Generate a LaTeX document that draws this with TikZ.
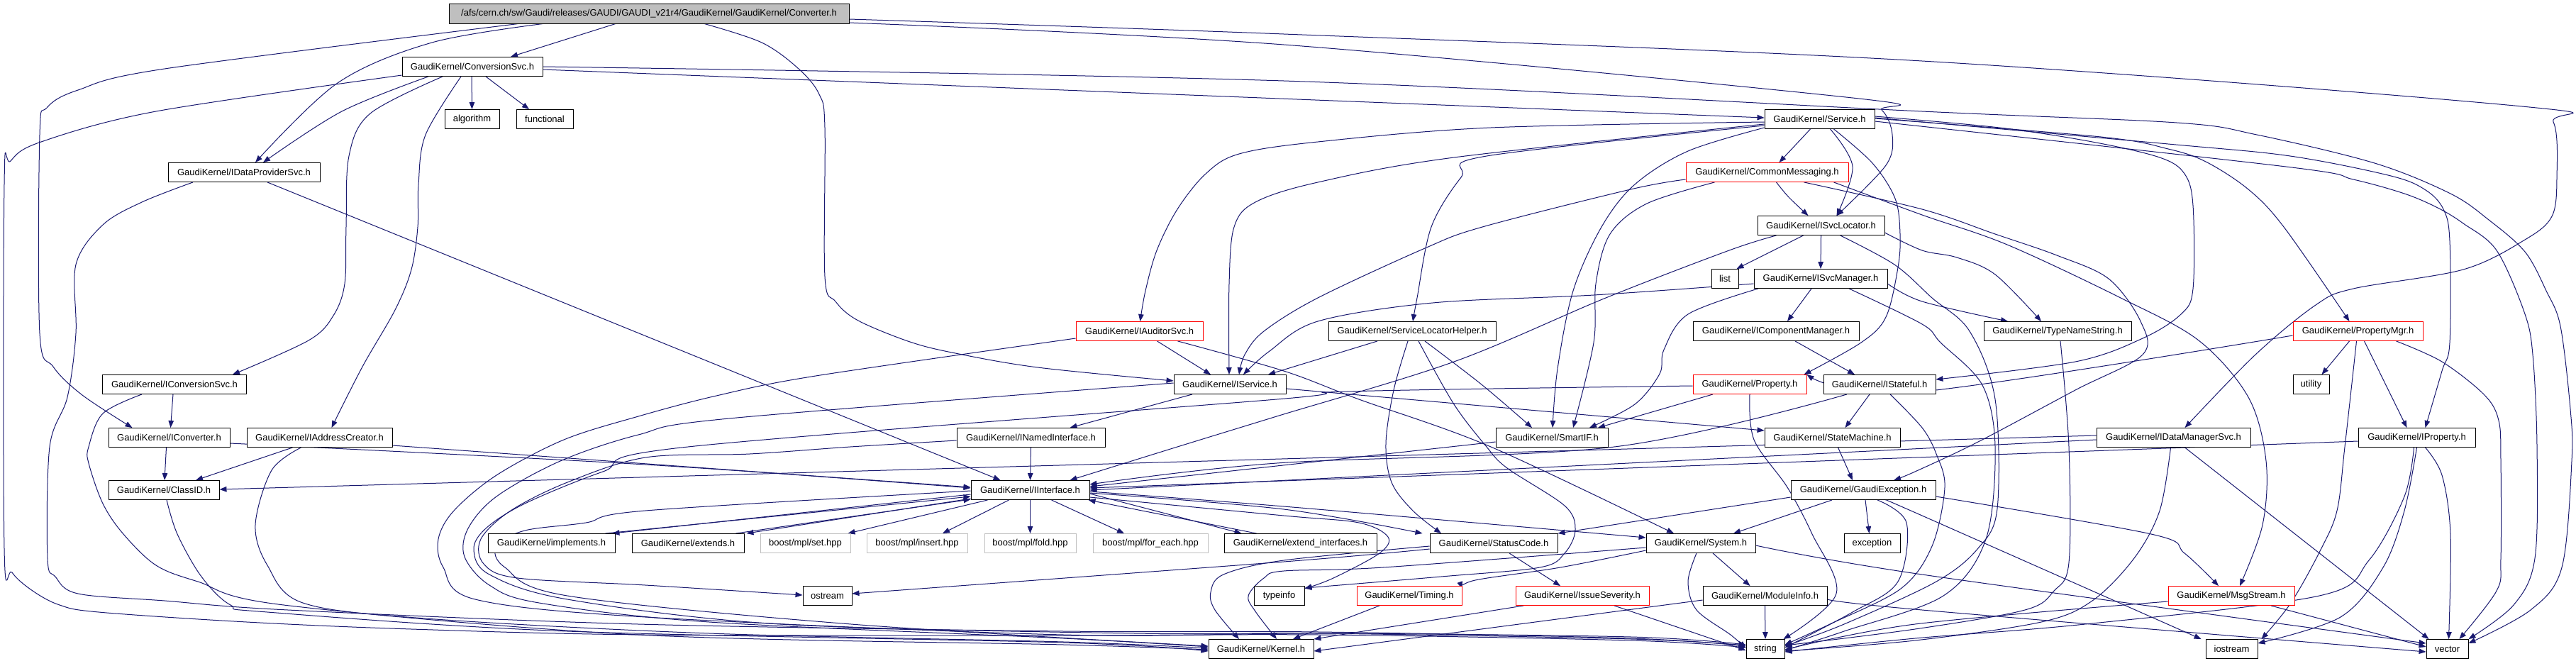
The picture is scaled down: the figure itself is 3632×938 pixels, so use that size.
\documentclass[tikz,border=0pt]{standalone}
\usepackage{fontspec}
\setmainfont{Liberation Sans}
\usetikzlibrary{arrows.meta}
\definecolor{navy}{RGB}{25,25,112}
\definecolor{boxgray}{RGB}{191,191,191}
\pgfdeclarelayer{edgelayer}
\pgfsetlayers{edgelayer,main}
\tikzset{
  box/.style={draw=black, line width=0.9pt, fill=white, minimum height=27pt, inner sep=0pt, font=\fontsize{13pt}{15pt}\selectfont},
  redbox/.style={box, draw=red},
  graybox/.style={box, draw=boxgray},
  rootbox/.style={box, fill=boxgray},
  conn/.style={draw=navy, line width=1pt, -{Triangle[length=10pt,width=7.5pt]}}
}
\newcommand\gedge[1]{\draw[conn] plot[smooth,tension=0.55] coordinates {#1};}
\begin{document}
\begin{tikzpicture}[x=1pt,y=-1pt]
\useasboundingbox (0,0) rectangle (3632,938);
% nodes
\node[rootbox, minimum width=564pt, minimum height=28pt] (R) at (915,19) {/afs/cern.ch/sw/Gaudi/releases/GAUDI/GAUDI\_v21r4/GaudiKernel/GaudiKernel/Converter.h};
\node[box, minimum width=198pt] (CS) at (666,94) {GaudiKernel/ConversionSvc.h};
\node[box, minimum width=77pt] (alg) at (665.5,168) {algorithm};
\node[box, minimum width=80pt] (func) at (768,168) {functional};
\node[box, minimum width=214pt] (IDP) at (344,243) {GaudiKernel/IDataProviderSvc.h};
\node[box, minimum width=155pt] (SV) at (2565.5,168) {GaudiKernel/Service.h};
\node[redbox, minimum width=229pt] (CM) at (2491.5,243) {GaudiKernel/CommonMessaging.h};
\node[box, minimum width=179pt] (ISL) at (2567.5,318) {GaudiKernel/ISvcLocator.h};
\node[box, minimum width=38pt] (list) at (2432,393) {list};
\node[box, minimum width=188pt] (ISM) at (2567,393) {GaudiKernel/ISvcManager.h};
\node[box, minimum width=236pt] (SLH) at (1991,467) {GaudiKernel/ServiceLocatorHelper.h};
\node[box, minimum width=234pt] (ICM) at (2504,467) {GaudiKernel/IComponentManager.h};
\node[box, minimum width=208pt] (TNS) at (2901,467) {GaudiKernel/TypeNameString.h};
\node[redbox, minimum width=183pt] (PMgr) at (3324.5,467) {GaudiKernel/PropertyMgr.h};
\node[redbox, minimum width=179pt] (IAud) at (1606.5,467) {GaudiKernel/IAuditorSvc.h};
\node[redbox, minimum width=160pt] (PR) at (2467,542) {GaudiKernel/Property.h};
\node[box, minimum width=158pt] (IST) at (2650,542) {GaudiKernel/IStateful.h};
\node[box, minimum width=51pt] (util) at (3258.5,542) {utility};
\node[box, minimum width=158pt] (IS) at (1734,542) {GaudiKernel/IService.h};
\node[box, minimum width=203pt] (ICS) at (246,542) {GaudiKernel/IConversionSvc.h};
\node[box, minimum width=158pt] (SIF) at (2188,617) {GaudiKernel/SmartIF.h};
\node[box, minimum width=191pt] (STM) at (2583.5,617) {GaudiKernel/StateMachine.h};
\node[box, minimum width=217pt] (IDM) at (3064.5,617) {GaudiKernel/IDataManagerSvc.h};
\node[box, minimum width=165pt] (IPR) at (3407.5,617) {GaudiKernel/IProperty.h};
\node[box, minimum width=209pt] (INI) at (1453.5,617) {GaudiKernel/INamedInterface.h};
\node[box, minimum width=171pt] (ICv) at (238.5,617) {GaudiKernel/IConverter.h};
\node[box, minimum width=205pt] (IAC) at (450.5,617) {GaudiKernel/IAddressCreator.h};
\node[box, minimum width=156pt] (CID) at (231,691) {GaudiKernel/ClassID.h};
\node[box, minimum width=167pt] (II) at (1452.5,691) {GaudiKernel/IInterface.h};
\node[box, minimum width=204pt] (GE) at (2627,691) {GaudiKernel/GaudiException.h};
\node[box, minimum width=179pt] (impl) at (777.5,766) {GaudiKernel/implements.h};
\node[box, minimum width=158pt] (ext) at (970,766) {GaudiKernel/extends.h};
\node[graybox, minimum width=127pt] (set) at (1135.5,766) {boost/mpl/set.hpp};
\node[graybox, minimum width=142pt] (ins) at (1293,766) {boost/mpl/insert.hpp};
\node[graybox, minimum width=129pt] (fold) at (1452.5,766) {boost/mpl/fold.hpp};
\node[graybox, minimum width=162pt] (fe) at (1622,766) {boost/mpl/for\_each.hpp};
\node[box, minimum width=215pt] (exti) at (1833.5,766) {GaudiKernel/extend\_interfaces.h};
\node[box, minimum width=180pt] (SC) at (2106,766) {GaudiKernel/StatusCode.h};
\node[box, minimum width=154pt] (SYS) at (2398,766) {GaudiKernel/System.h};
\node[box, minimum width=79pt] (exc) at (2639.5,766) {exception};
\node[box, minimum width=69pt] (ost) at (1166.5,840) {ostream};
\node[box, minimum width=71pt] (tinfo) at (1803.5,840) {typeinfo};
\node[redbox, minimum width=148pt] (TIM) at (1987,840) {GaudiKernel/Timing.h};
\node[redbox, minimum width=188pt] (ISev) at (2231,840) {GaudiKernel/IssueSeverity.h};
\node[box, minimum width=175pt] (MI) at (2488.5,840) {GaudiKernel/ModuleInfo.h};
\node[redbox, minimum width=178pt] (MS) at (3146,840) {GaudiKernel/MsgStream.h};
\node[box, minimum width=148pt] (KRN) at (1778,915) {GaudiKernel/Kernel.h};
\node[box, minimum width=54pt] (str) at (2489,915) {string};
\node[box, minimum width=73pt] (ios) at (3146.5,915) {iostream};
\node[box, minimum width=59pt] (vec) at (3450.5,915) {vector};

\begin{pgfonlayer}{edgelayer}
\fill[white] (0,0) rectangle (3632,938);
% root
\gedge{([xshift=-47pt]R.south) ([xshift=54pt]CS.north)}
\gedge{([xshift=-149pt]R.south) (609,60) (476,117) ([xshift=16pt]IDP.north)}
\gedge{([xshift=-184pt]R.south) (232,97) (110,127) (66,152) (56,190) (56,470) (75,517) (116,557) ([xshift=-52pt]ICv.north)}
\gedge{([xshift=78pt]R.south) (1074,60) (1126,97) (1155,133) (1163,180) (1163,390) (1178,425) (1210,452) (1283,482) (1347,498) (1463,518) ([yshift=5pt]IS.west)}
\gedge{([yshift=-13pt]R.east) (1810,63) (2612,138) (2653,155) (2668,190) (2659,233) ([xshift=22pt]ISL.north)}
\gedge{([yshift=-8pt]R.east) (1810,48) (2710,86) (3556,150) (3600,172) (3605,250) (3598,305) (3560,338) (3473,380) (3318,407) (3265,430) (3180,500) ([xshift=16pt]IDM.north)}
% ConversionSvc
\gedge{([xshift=-1pt]CS.south) (alg.north)}
\gedge{([xshift=19pt]CS.south) ([xshift=-22pt]func.north)}
\gedge{([xshift=-62pt]CS.south) (482,157) ([xshift=27pt]IDP.north)}
\gedge{([xshift=-42pt]CS.south) (522,160) (492,220) (488,320) (486,400) (470,445) (435,480) ([xshift=82pt]ICS.north)}
\gedge{([xshift=-16pt]CS.south) (600,190) (590,260) (589,320) (580,380) (557,437) (511,517) ([xshift=17pt]IAC.north)}
\gedge{([yshift=-4pt]CS.east) ([yshift=2pt]SV.west)}
\gedge{(CS.east) (1810,114) (2710,157) (3069,173) (3182,190) (3348,230) (3455,273) (3509,310) (3560,355) (3590,410) (3610,460) (3624,577) (3626,650) (3612,800) (3568,860) ([yshift=8pt]vec.east)}
\gedge{([yshift=-12pt]CS.west) (220,157) (58,200) (15,227) (6,260) (6,773) (17,807) (46,833) (84,853) (139,863) (348,877) (580,887) (910,895) (1500,896) (1860,895) (2300,903) ([yshift=2pt]str.west)}
% IDataProviderSvc
\gedge{([xshift=33pt]IDP.south) ([xshift=-42pt]II.north)}
\gedge{([xshift=-72pt]IDP.south) (200,285) (145,317) (107,373) (107,470) (95,560) (70,630) (67,787) (78,813) (110,837) (232,847) (406,860) (900,880) (1500,890) (1860,891) (2300,900) ([yshift=4pt]str.west)}
% IConversionSvc
\gedge{([xshift=-2pt]ICS.south) ([xshift=2pt]ICv.north)}
\gedge{([xshift=-46pt]ICS.south) (145,583) (125,630) (125,653) (145,710) (174,753) (220,797) (279,820) (400,853) (900,895) (1500,909) ([yshift=-1pt]KRN.west)}
% IConverter, IAddressCreator, ClassID
\gedge{([xshift=-4pt]ICv.south) ([xshift=1pt]CID.north)}
\gedge{([yshift=-8pt]ICv.east) (910,655) ([yshift=3pt]II.west)}
\gedge{([xshift=-38pt]IAC.south) ([xshift=45pt]CID.north)}
\gedge{([xshift=-26pt]IAC.south) (383,663) (360,740) (377,797) (427,850) (600,872) (1000,893) (1500,905) ([yshift=1pt]KRN.west)}
\gedge{([yshift=-11pt]IAC.east) ([yshift=4pt]II.west)}
\gedge{([xshift=4pt]CID.south) (250,753) (284,813) (325,853) (377,863) (800,890) (1500,906) ([yshift=-3pt]KRN.west)}
% INamedInterface
\gedge{(INI.south) (II.north)}
% loops around implements
\gedge{([yshift=-10pt]IAud.west) (1150,530) (1010,558) (900,587) (795,620) (700,670) (640,720) (618,760) (625,800) (670,845) (910,870) (1500,895) (1860,893) (2300,898) ([yshift=6pt]str.west)}
\gedge{([yshift=2pt]IS.west) (1028,590) (900,613) (790,650) (700,700) (660,745) (655,785) (690,825) (760,850) (1000,877) (1500,900) ([yshift=3pt]KRN.west)}
\gedge{([yshift=-2pt]PR.west) (1899,552) (1800,563) (970,630) (850,665) (740,710) (685,745) (668,775) (690,810) (800,845) (1100,880) (1600,893) (1860,893) (2300,901) ([yshift=5pt]str.west)}
\gedge{([yshift=-4pt]INI.west) (1199,630) (1057,640) (910,645) (800,680) (720,720) (678,760) (682,795) (730,815) (910,825) ([yshift=1pt]ost.west)}
% Service
\gedge{([xshift=-13pt]SV.south) ([xshift=17pt]CM.north)}
\gedge{([xshift=15pt]SV.south) (2612,235) ([xshift=22pt]ISL.north)}
\gedge{([xshift=20pt]SV.south) (2640,230) (2672,280) (2679,330) (2676,377) (2659,447) (2624,483) ([xshift=-4pt]PR.north east)}
\gedge{([yshift=4pt]SV.east) (2819,180) (2950,200) (3045,222) (3080,245) (3092,290) (3092,407) (3075,443) (3021,477) (2926,510) ([yshift=7pt]IST.east)}
\gedge{([yshift=1pt]SV.east) (2962,193) (3057,210) (3110,228) (3170,267) (3220,320) ([xshift=-12pt]PMgr.north)}
\gedge{([yshift=2pt]SV.east) (3057,203) (3229,220) (3371,248) (3420,268) (3445,295) (3454,340) (3454,483) (3443,523) ([xshift=12pt]IPR.north)}
\gedge{([yshift=-3pt]SV.east) (3223,235) (3318,253) (3390,273) (3437,293) (3473,315) (3520,353) (3559,440) (3571,500) (3577,630) (3574,787) (3544,853) (vec.north east)}
\gedge{([yshift=-4pt]SV.west) (2102,180) (1858,200) (1747,217) (1700,245) (1660,295) (1631,353) (1615,410) ([xshift=1pt]IAud.north)}
\gedge{([yshift=-7pt]SV.west) (2050,222) (1858,257) (1770,285) (1740,320) (1733,400) ([xshift=-1pt]IS.north)}
\gedge{([yshift=-9pt]SV.west) (2096,220) (2060,250) (2018,320) (1998,420) ([xshift=1pt]SLH.north)}
\gedge{([yshift=-12pt]SV.west) (2380,213) (2305,260) (2258,320) (2218,410) (2196,520) ([xshift=1pt]SIF.north)}
% CommonMessaging
\gedge{([xshift=13pt]CM.south) (2522,278) ([xshift=-18pt]ISL.north)}
\gedge{([xshift=-74pt]CM.south) (2322,287) (2270,330) (2250,400) (2247,483) ([xshift=30pt]SIF.north)}
\gedge{([yshift=-10pt]CM.west) (2299,267) (2090,320) (2009,350) (1858,420) (1782,467) (1755,500) ([xshift=13pt]IS.north)}
\gedge{([xshift=52pt]CM.south) (2710,295) (2813,330) (2900,360) (2973,393) (3018,453) (3021,500) (2926,550) (2789,623) (2700,665) ([xshift=43pt]GE.north)}
\gedge{([xshift=94pt]CM.south) (2710,303) (2830,345) (2990,420) (3100,480) (3170,560) (3195,650) (3190,740) ([xshift=12pt]MS.north)}
% ISvcLocator
\gedge{([xshift=-25pt]ISL.south) ([xshift=-3pt]list.north east)}
\gedge{(ISL.south) (ISM.north)}
\gedge{([xshift=-63pt]ISL.south) (2438,353) (2264,420) (2050,510) (1800,587) (1660,630) ([xshift=56pt]II.north)}
\gedge{([xshift=27pt]ISL.south) (2671,373) (2724,420) (2777,467) (2813,563) (2816,717) (2789,773) (2730,820) (2600,880) ([yshift=4pt]str.east)}
\gedge{([yshift=-10pt]ISL.east) (2710,353) (2759,363) (2813,387) ([xshift=-23pt]TNS.north)}
% ISvcManager
\gedge{([xshift=-13pt]ISM.south) ([xshift=16pt]ICM.north)}
\gedge{([yshift=-7pt]ISM.west) (2247,416) (2020,427) (1858,453) (1790,495) ([xshift=19pt]IS.north)}
\gedge{([xshift=-88pt]ISM.south) (2380,443) (2346,493) (2340,527) (2305,570) ([xshift=53pt]SIF.north)}
\gedge{([yshift=-7pt]ISM.east) (2710,425) ([xshift=-70pt]TNS.north)}
\gedge{([xshift=40pt]ISM.south) (2710,457) (2736,483) (2795,543) (2813,630) (2800,760) (2740,840) (2600,890) ([yshift=-2pt]str.east)}
% IComponentManager
\gedge{([xshift=27pt]ICM.south) ([xshift=-35pt]IST.north)}
% ServiceLocatorHelper
\gedge{([xshift=-49pt]SLH.south) ([xshift=54pt]IS.north)}
\gedge{([xshift=18pt]SLH.south) (2090,543) ([xshift=-28pt]SIF.north)}
\gedge{([xshift=-6pt]SLH.south) (1965,550) (1954,625) (1962,680) (1992,720) ([xshift=-74pt]SC.north)}
\gedge{([xshift=9pt]SLH.south) (2050,570) (2096,630) (2125,660) (2206,713) (2221,747) (2206,780) (2171,800) (2032,813) ([yshift=-3pt]tinfo.north east)}
% IAuditorSvc
\gedge{([xshift=25pt]IAud.south) ([xshift=-27pt]IS.north)}
\gedge{([xshift=54pt]IAud.south) (1810,523) (1916,563) (2102,630) ([xshift=-38pt]SYS.north)}
% IService
\gedge{([xshift=-53pt]IS.south) ([xshift=55pt]INI.north)}
\gedge{([yshift=-6pt]IS.east) ([yshift=10pt]STM.west)}
% Property
\gedge{([xshift=-52pt]PR.south) ([xshift=65pt]SIF.north)}
\gedge{(PR.south) (2473,620) (2520,687) (2555,753) (2589,837) ([xshift=-2pt]str.north east)}
% IStateful
\gedge{([xshift=-14pt]IST.south) ([xshift=18pt]STM.north)}
\gedge{([xshift=-46pt]IST.south) (2276,630) (1800,653) ([yshift=8pt]II.east)}
\gedge{([xshift=15pt]IST.south) (2710,603) (2730,640) (2742,687) (2724,770) (2680,830) (2580,880) ([yshift=6pt]str.east)}
% StateMachine, SmartIF
\gedge{([xshift=8pt]STM.south) ([xshift=-15pt]GE.north)}
\gedge{([yshift=-6pt]SIF.west) ([yshift=5pt]II.east)}
% PropertyMgr
\gedge{([xshift=-12pt]PMgr.south) ([xshift=15pt]util.north)}
\gedge{([xshift=9pt]PMgr.south) ([xshift=-14pt]IPR.north)}
\gedge{([yshift=-6pt]PMgr.west) (2700,553) (PR.north east)}
\gedge{([xshift=-2pt]PMgr.south) (3306,630) (3295,720) (3271,777) (3230,850) ([xshift=5pt]ios.north east)}
\gedge{([xshift=54pt]PMgr.south) (3443,510) (3503,557) (3523,593) (3526,650) (3526,787) (3520,833) ([xshift=-13pt]vec.north east)}
% IProperty
\gedge{([yshift=-5pt]IPR.west) ([yshift=3pt]II.east)}
\gedge{([xshift=12pt]IPR.south) (3443,670) (3455,753) ([xshift=2pt]vec.north)}
\gedge{(IPR.south) (3390,720) (3360,800) (3300,870) ([yshift=8pt]ios.east)}
\gedge{([xshift=-4pt]IPR.south) (3390,700) (3340,790) (3270,840) (2940,880) (2700,900) ([yshift=-4pt]str.east)}
% IDataManagerSvc
\gedge{([yshift=3pt]IDM.west) ([yshift=1pt]CID.east)}
\gedge{([yshift=-3pt]IDM.west) (II.east)}
\gedge{([xshift=16pt]IDM.south) ([xshift=-26pt]vec.north)}
\gedge{([xshift=-4pt]IDM.south) (3045,720) (3009,787) (2950,847) (2878,877) (2700,903) ([yshift=-3pt]str.east)}
% TypeNameString
\gedge{([xshift=4pt]TNS.south) (2917,630) (2917,793) (2896,833) (2855,860) (2700,887) ([yshift=5pt]str.east)}
% GaudiException
\gedge{([xshift=3pt]GE.south) ([xshift=-4pt]exc.north)}
\gedge{([xshift=-44pt]GE.south) ([xshift=46pt]SYS.north)}
\gedge{([yshift=-10pt]GE.west) (SC.north east)}
\gedge{([xshift=20pt]GE.south) (2688,737) (2676,820) (2612,863) ([yshift=2pt]str.east)}
\gedge{([yshift=-9pt]GE.east) (3033,753) (3080,780) ([xshift=-18pt]MS.north)}
\gedge{([xshift=32pt]GE.south) (2710,727) ([xshift=-6pt]ios.north west)}
% IInterface
\gedge{([yshift=-6pt]II.west) ([xshift=-4pt]impl.north east)}
\gedge{([xshift=-14pt]impl.north east) ([yshift=-9pt]II.west)}
\gedge{([yshift=-12pt]II.west) ([xshift=3pt]ext.north east)}
\gedge{([xshift=-12pt]ext.north east) ([yshift=-13pt]II.west)}
\gedge{([xshift=-60pt]II.south) ([xshift=60pt]set.north)}
\gedge{([xshift=-30pt]II.south) ([xshift=36pt]ins.north)}
\gedge{(II.south) (fold.north)}
\gedge{([xshift=30pt]II.south) ([xshift=-37pt]fe.north)}
\gedge{([yshift=-5pt]II.east) ([xshift=-83pt]exti.north)}
\gedge{([xshift=-62pt]exti.north) ([xshift=-2pt]II.south east)}
\gedge{([yshift=-4pt]II.east) (1810,718) ([xshift=-10pt]SC.north west)}
\gedge{([yshift=-2pt]II.east) (1810,714) ([yshift=8pt]SYS.west)}
\gedge{([yshift=-10pt]II.east) (1810,727) (1916,737) (1957,757) (1945,780) (1880,815) ([yshift=10pt]tinfo.east)}
\gedge{([yshift=-1pt]II.west) (910,720) (826,737) (740,748) (700,770) (712,800) (800,840) (1200,880) ([yshift=4pt]KRN.west)}
% StatusCode
\gedge{([xshift=22pt]SC.south) ([xshift=-31pt]ISev.north)}
\gedge{([yshift=-8pt]SC.west) (1810,792) ([yshift=3pt]ost.east)}
\gedge{([yshift=-4pt]SC.west) (1810,790) (1725,810) (1707,835) (1713,860) ([xshift=-31pt]KRN.north)}
% System
\gedge{([xshift=17pt]SYS.south) ([xshift=-21pt]MI.north)}
\gedge{([xshift=-6pt]SYS.south) (2380,820) (2392,860) (2440,895) ([yshift=1pt]str.west)}
\gedge{([yshift=-10pt]SYS.west) (2200,800) (2080,818) ([yshift=-4pt]TIM.north east)}
\gedge{([yshift=-3pt]SYS.east) (2710,810) ([yshift=8pt]vec.west)}
\gedge{([yshift=-6pt]SYS.west) (1950,800) (1810,805) (1782,815) (1760,840) (1770,862) ([xshift=22pt]KRN.north)}
% bottom row sources
\gedge{([xshift=-42pt]TIM.south) ([xshift=45pt]KRN.north)}
\gedge{([xshift=-83pt]ISev.south) (KRN.north east)}
\gedge{([xshift=45pt]ISev.south) ([yshift=-2pt]str.west)}
\gedge{(MI.south) (str.north)}
\gedge{([yshift=-6pt]MI.west) ([yshift=-3pt]KRN.east)}
\gedge{([yshift=-5pt]MI.east) (2710,860) ([yshift=-4pt]vec.west)}
\gedge{([yshift=-8pt]MS.west) (2700,880) ([yshift=-1pt]str.east)}
\gedge{([xshift=56pt]MS.south) ([yshift=3pt]vec.west)}
\end{pgfonlayer}
\end{tikzpicture}
\end{document}
